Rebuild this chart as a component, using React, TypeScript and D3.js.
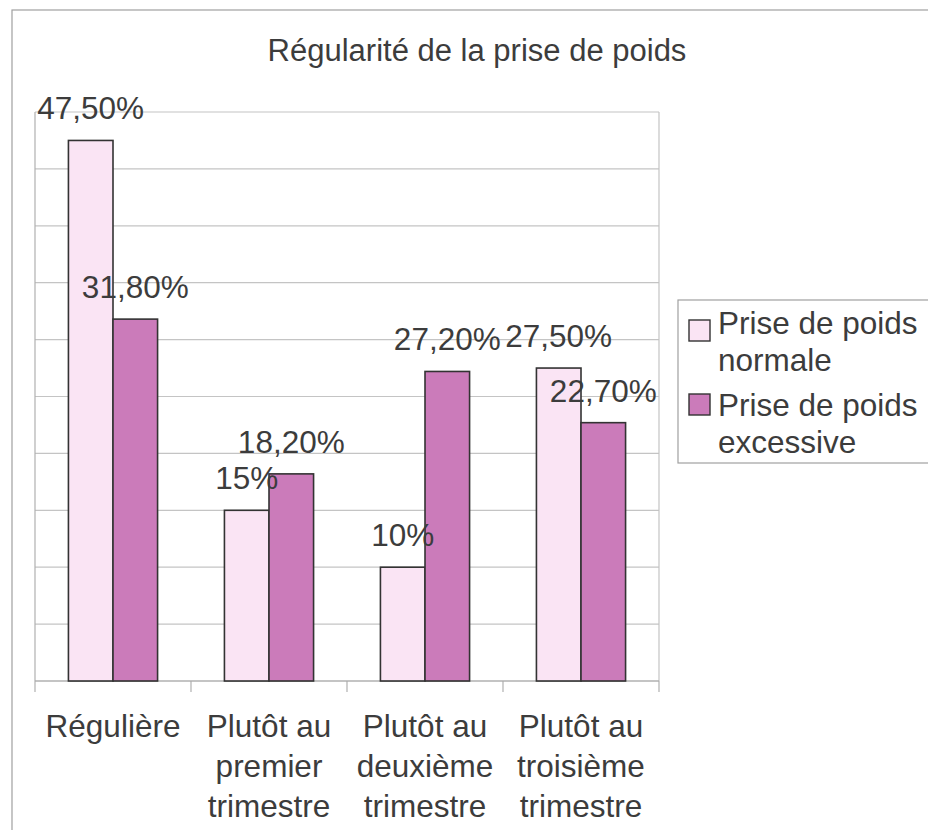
import React from "react";
import * as d3 from "d3";

const title = "Régularité de la prise de poids";
const categories = ["Régulière", "Plutôt au premier trimestre", "Plutôt au deuxième trimestre", "Plutôt au troisième trimestre"];
const categoryLines = [["Régulière"], ["Plutôt au", "premier", "trimestre"], ["Plutôt au", "deuxième", "trimestre"], ["Plutôt au", "troisième", "trimestre"]];
const seriesNames = ["Prise de poids normale", "Prise de poids excessive"];
const legendLines = [["Prise de poids", "normale"], ["Prise de poids", "excessive"]];
const normale = [47.5, 15, 10, 27.5];
const excessive = [31.8, 18.2, 27.2, 22.7];
const yTicks = [0, 5, 10, 15, 20, 25, 30, 35, 40, 45, 50];

const W = 928, H = 830;
const FONT = "'Liberation Sans', Arial, sans-serif";
const TEXT = "#3c3c3c";
const fills = ["#FAE4F4", "#CB7BBA"];

const fmt = (v: number) => (Number.isInteger(v) ? `${v}%` : v.toFixed(2).replace(".", ",") + "%");

export default function App() {
  const left = 35, right = 659, top = 112, bottom = 681;
  const x = d3.scaleBand<number>().domain(categories.map((_, i) => i)).range([left, right]).padding(0);
  const y = d3.scaleLinear().domain([0, 50]).range([bottom, top]);
  const bw = x.bandwidth();
  const groupW = (bw * 2) / 3.5;
  const barW = groupW / 2;
  const series = [normale, excessive];

  return (
    <svg width={W} height={H} style={{ position: "absolute", left: 0, top: 0, background: "#fff" }} fontFamily={FONT}>
      <rect x={12} y={10} width={W + 20} height={H + 20} fill="#fff" stroke="#a0a0a0" strokeWidth={1.2} />
      <text x={477} y={61} textAnchor="middle" fontSize={31} fill={TEXT}>{title}</text>

      {/* gridlines */}
      {yTicks.map((t) => (
        <line key={t} x1={left} x2={right} y1={y(t)} y2={y(t)} stroke="#c4c4c4" strokeWidth={1.2} />
      ))}
      <line x1={left} x2={left} y1={top} y2={bottom} stroke="#b0b0b0" strokeWidth={1.2} />
      <line x1={right} x2={right} y1={top} y2={bottom} stroke="#c4c4c4" strokeWidth={1.2} />
      {/* x axis ticks */}
      {categories.map((_, i) => (
        <line key={i} x1={x(i)!} x2={x(i)!} y1={bottom} y2={bottom + 11} stroke="#b0b0b0" strokeWidth={1.2} />
      ))}
      <line x1={right} x2={right} y1={bottom} y2={bottom + 11} stroke="#b0b0b0" strokeWidth={1.2} />
      <line x1={left} x2={right} y1={bottom} y2={bottom} stroke="#a8a8a8" strokeWidth={1.2} />

      {/* bars */}
      {series.map((vals, s) =>
        vals.map((v, i) => {
          const bx = x(i)! + (bw - groupW) / 2 + s * barW;
          return (
            <rect key={`${s}-${i}`} x={bx} y={y(v)} width={barW} height={y(0) - y(v)} fill={fills[s]} stroke="#333" strokeWidth={1.6} />
          );
        })
      )}
      {/* labels */}
      {series.map((vals, s) =>
        vals.map((v, i) => {
          const bx = x(i)! + (bw - groupW) / 2 + s * barW + barW / 2;
          return (
            <text key={`l${s}-${i}`} x={bx} y={y(v) - 21} textAnchor="middle" fontSize={31.5} fill={TEXT}>{fmt(v)}</text>
          );
        })
      )}

      {/* category labels */}
      {categoryLines.map((lines, i) => (
        <text key={`c${i}`} textAnchor="middle" fontSize={31.5} fill={TEXT}>
          {lines.map((ln, k) => (
            <tspan key={k} x={x(i)! + bw / 2} y={737 + k * 40}>{ln}</tspan>
          ))}
        </text>
      ))}

      {/* legend */}
      <rect x={678} y={300} width={300} height={163} fill="#fff" stroke="#a0a0a0" strokeWidth={1.2} />
      {seriesNames.map((name, s) => (
        <g key={name}>
          <rect x={689} y={320 + s * 74} width={21} height={21} fill={fills[s]} stroke="#333" strokeWidth={1.4} />
          <text fontSize={31.5} fill={TEXT}>
            {legendLines[s].map((ln, k) => (
              <tspan key={k} x={718} y={334 + s * 82 + k * 37}>{ln}</tspan>
            ))}
          </text>
        </g>
      ))}
    </svg>
  );
}
